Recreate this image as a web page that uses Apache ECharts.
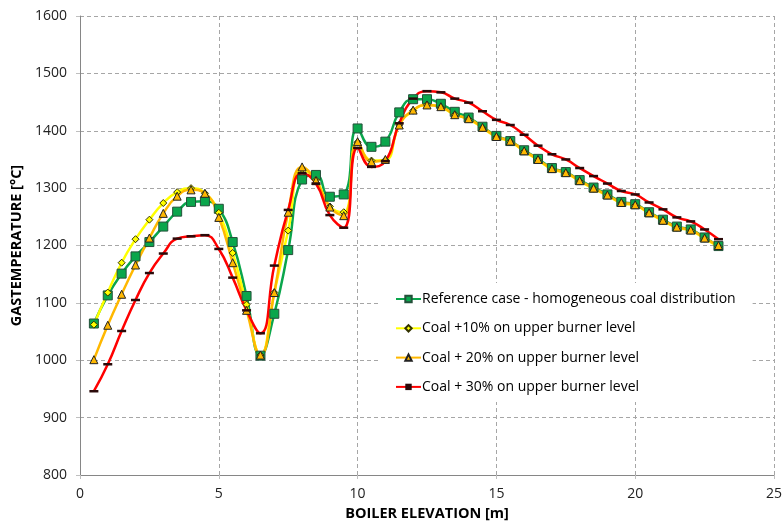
<!DOCTYPE html>
<html>
<head>
<meta charset="utf-8">
<script src="https://cdn.jsdelivr.net/npm/echarts@6/dist/echarts.min.js"></script>
<style>
html,body{margin:0;padding:0;background:#fff;}
#chart{width:783px;height:523px;}
</style>
</head>
<body>
<div id="chart"></div>
<script>
// Boiler elevation [m]
var elevation = [0.5,1,1.5,2,2.5,3,3.5,4,4.5,5,5.5,6,6.5,7,7.5,8,8.5,9,9.5,10,10.5,11,11.5,12,12.5,13,13.5,14,14.5,15,15.5,16,16.5,17,17.5,18,18.5,19,19.5,20,20.5,21,21.5,22,22.5,23];

var seriesNames = [
  'Reference case - homogeneous coal distribution',
  'Coal +10% on upper burner level',
  'Coal + 20% on upper burner level',
  'Coal + 30% on upper burner level'
];

// Gas temperature [°C]
var referenceCase = [1064,1113,1151,1181,1206,1233,1259,1276,1277,1264,1206,1112,1008,1081,1192,1315,1323,1285,1289,1404,1372,1381,1432,1455,1455,1447,1433,1423,1407,1391,1382,1366,1351,1335,1328,1314,1301,1289,1276,1272,1258,1245,1233,1228,1214,1199];
var coal10 = [1062,1118,1170,1211,1245,1274,1293,1300,1291,1257,1187,1097,1009,1118,1226,1333,1314,1268,1258,1380,1348,1349,1410,1435,1445,1441,1428,1420,1405,1389,1381,1364,1349,1333,1326,1312,1299,1287,1274,1270,1256,1243,1231,1226,1212,1198];
var coal20 = [1001,1061,1115,1166,1213,1256,1286,1297,1291,1249,1170,1087,1009,1118,1258,1337,1313,1267,1252,1381,1346,1350,1410,1436,1445,1442,1428,1421,1406,1390,1382,1365,1350,1334,1327,1313,1300,1288,1275,1271,1257,1244,1232,1227,1213,1200];
var coal30 = [946,993,1051,1105,1152,1186,1212,1216,1218,1194,1144,1087,1047,1165,1262,1326,1308,1253,1231,1370,1337,1347,1413,1456,1469,1467,1456,1449,1434,1419,1410,1393,1374,1359,1350,1335,1321,1308,1295,1289,1275,1263,1249,1242,1228,1211];

var xTicks = [0,5,10,15,20,25];
var yTicks = [800,900,1000,1100,1200,1300,1400,1500,1600];

function pairs(ys){ return elevation.map(function(x,i){ return [x, ys[i]]; }); }

var FONT = '"Open Sans", "Liberation Sans", sans-serif';

var chart = echarts.init(document.getElementById('chart'), null, {renderer:'canvas'});
chart.setOption({
  animation:false,
  backgroundColor:'#ffffff',
  grid:{left:80, right:9, top:16, bottom:48, containLabel:false, outerBoundsMode:'none'},
  xAxis:{
    type:'value', min:xTicks[0], max:xTicks[xTicks.length-1], interval:5,
    name:'BOILER ELEVATION [m]', nameLocation:'middle', nameGap:31,
    nameTextStyle:{fontFamily:FONT, fontWeight:'bold', fontSize:14.5, color:'#000'},
    axisLine:{lineStyle:{color:'#868686', width:1}},
    axisTick:{show:true, length:4, lineStyle:{color:'#bfbfbf'}},
    axisLabel:{fontFamily:FONT, fontSize:14, color:'#222', margin:12, formatter:function(v){return String(v);}},
    splitLine:{show:true, lineStyle:{type:[4,3], color:'#a6a6a6', width:1}}
  },
  yAxis:{
    type:'value', min:yTicks[0], max:yTicks[yTicks.length-1], interval:100,
    name:'GASTEMPERATURE [°C]', nameLocation:'middle', nameGap:54,
    nameTextStyle:{fontFamily:FONT, fontWeight:'bold', fontSize:14.5, color:'#000'},
    axisLine:{show:true, lineStyle:{color:'#868686', width:1}},
    axisTick:{show:true, length:4, lineStyle:{color:'#bfbfbf'}},
    axisLabel:{fontFamily:FONT, fontSize:14, color:'#222', margin:13, formatter:function(v){return String(v);}},
    splitLine:{show:true, lineStyle:{type:[4,3], color:'#a6a6a6', width:1}}
  },
  legend:{
    orient:'vertical', left:380, top:283,
    backgroundColor:'#ffffff',
    padding:[8,17,7,15],
    itemWidth:25, itemHeight:8, itemGap:13.3,
    textStyle:{fontFamily:FONT, fontSize:14, color:'#000', lineHeight:16, padding:[0,0,0,-4]},
    data:seriesNames
  },
  series:[
    {
      name:seriesNames[0], type:'line', data:pairs(referenceCase), smooth:0.5,
      symbol:'rect', symbolSize:9,
      lineStyle:{color:'#0aa64c', width:2.5},
      itemStyle:{color:'#0aa64c', borderColor:'#24503a', borderWidth:1}
    },
    {
      name:seriesNames[1], type:'line', data:pairs(coal10), smooth:0.5,
      symbol:'diamond', symbolSize:7,
      lineStyle:{color:'#ffff00', width:2.5},
      itemStyle:{color:'#ffff00', borderColor:'#333300', borderWidth:1}
    },
    {
      name:seriesNames[2], type:'line', data:pairs(coal20), smooth:0.5,
      symbol:'triangle', symbolSize:8,
      lineStyle:{color:'#ffb800', width:2.5},
      itemStyle:{color:'#ffb800', borderColor:'#222', borderWidth:1}
    },
    {
      name:seriesNames[3], type:'line', data:pairs(coal30), smooth:0.5,
      symbol:'rect', symbolSize:[9,2.5],
      lineStyle:{color:'#ff0000', width:2.5},
      itemStyle:{color:'#2a0a0a', borderWidth:0}
    }
  ]
});
</script>
</body>
</html>
